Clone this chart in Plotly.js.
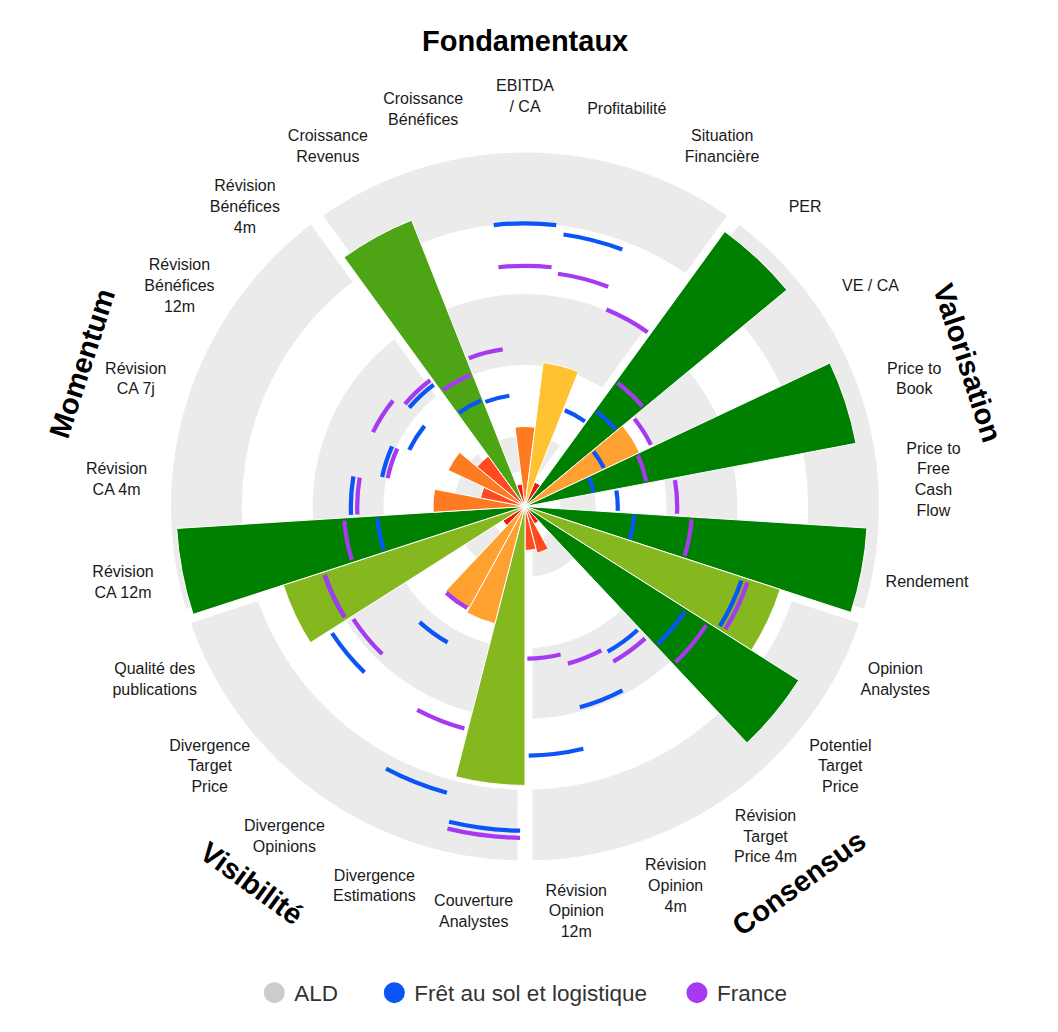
<!DOCTYPE html>
<html>
<head>
<meta charset="utf-8">
<script src="https://cdn.plot.ly/plotly-3.0.1.min.js"></script>
<style>html,body{margin:0;padding:0;background:#fff;}</style>
</head>
<body>
<div id="chart" style="width:1058px;height:1032px;"></div>
<script>
// ---- data ----
const categories = [
  "EBITDA / CA", "Profitabilité", "Situation Financière",
  "PER", "VE / CA", "Price to Book", "Price to Free Cash Flow", "Rendement",
  "Opinion Analystes", "Potentiel Target Price", "Révision Target Price 4m", "Révision Opinion 4m", "Révision Opinion 12m",
  "Couverture Analystes", "Divergence Estimations", "Divergence Opinions", "Divergence Target Price", "Qualité des publications",
  "Révision CA 12m", "Révision CA 4m", "Révision CA 7j", "Révision Bénéfices 12m", "Révision Bénéfices 4m",
  "Croissance Revenus", "Croissance Bénéfices"
];
const tickLabels = [
  "EBITDA<br>/ CA", "Profitabilité", "Situation<br>Financière",
  "PER", "VE / CA", "Price to<br>Book", "Price to<br>Free<br>Cash<br>Flow", "Rendement",
  "Opinion<br>Analystes", "Potentiel<br>Target<br>Price", "Révision<br>Target<br>Price 4m", "Révision<br>Opinion<br>4m", "Révision<br>Opinion<br>12m",
  "Couverture<br>Analystes", "Divergence<br>Estimations", "Divergence<br>Opinions", "Divergence<br>Target<br>Price", "Qualité des<br>publications",
  "Révision<br>CA 12m", "Révision<br>CA 4m", "Révision<br>CA 7j", "Révision<br>Bénéfices<br>12m", "Révision<br>Bénéfices<br>4m",
  "Croissance<br>Revenus", "Croissance<br>Bénéfices"
];
const groupNames = ["Fondamentaux", "Valorisation", "Consensus", "Visibilité", "Momentum"];
const groupMiddles = ["EBITDA / CA", "Price to Book", "Révision Target Price 4m", "Divergence Opinions", "Révision CA 7j"];

const aldValues = [1.13, 2.05, 0.37, 4.80, 1.79, 4.76, 0, 4.84, 3.79, 4.58, 0.28, 0.68, 0.62, 3.94, 1.71, 1.64, 0.37, 3.59, 4.93, 1.30, 0.64, 1.20, 0.88, 4.35, 0.32];
const fretValues = [4.00, 3.88, 1.47, 1.68, 1.24, 0.99, 1.31, 1.55, 3.23, 2.70, 2.36, 2.94, 3.52, 4.58, 4.19, 2.21, 3.26, 2.99, 2.09, 2.46, 2.06, 1.82, 2.15, 1.62, 1.58];
const franceValues = [3.40, 3.32, 3.01, 2.18, 1.98, 1.75, 2.15, 2.36, 3.32, 3.06, 2.52, 2.30, 2.15, 4.68, 3.25, 1.65, 2.90, 2.99, 2.56, 2.37, 1.98, 2.39, 2.23, 2.01, 2.24];

const seriesNames = ["ALD", "Frêt au sol et logistique", "France"];

// ---- styles ----
const rMax = 5;          // outer edge of the score scale
const rView = 6;         // radial range shown (room for the category labels)
const bandBases = [0.5, 2, 4];
const bandSizes = [0.5, 1, 1];
const palette = ["#fb1212", "#ff4b1f", "#ff7b22", "#ffa131", "#ffc233", "#e0c22b", "#b5bd25", "#85b71e", "#4da515", "#008000"];
const legendColors = ["#cccccc", "#0b55f7", "#a63af2"];
const legendPads = ["\u00a0\u00a0\u00a0\u00a0\u00a0", "\u00a0\u00a0\u00a0\u00a0", ""];
const arcThick = 0.06;
const labelR = 5.78;
const titleR = 6.58;

function colorFor(v) {
  const i = Math.min(palette.length - 1, Math.max(0, Math.floor(v / 0.5)));
  return palette[i];
}

const traces = [];

// grey background bands per group
const bandTheta = [], bandBase = [], bandR = [];
groupMiddles.forEach(g => {
  bandBases.forEach((b, k) => { bandTheta.push(g); bandBase.push(b); bandR.push(bandSizes[k]); });
});
traces.push({
  type: "barpolar", theta: bandTheta, base: bandBase, r: bandR, width: 5,
  marker: {color: "#ebebeb", line: {width: 0}}, showlegend: false, hoverinfo: "skip"
});

// white gaps between groups
traces.push({
  type: "barpolar", theta: groupMiddles, r: groupMiddles.map(() => rMax + 0.1), base: 0,
  width: 0.001, offset: 2.5,
  marker: {color: "#ffffff", line: {color: "#ffffff", width: 15}}, showlegend: false, hoverinfo: "skip"
});

// ALD bars
traces.push({
  type: "barpolar", name: seriesNames[0], theta: categories, r: aldValues, width: 1,
  marker: {color: aldValues.map(colorFor), line: {color: "#ffffff", width: 1}},
  showlegend: false
});

// benchmark arcs
[fretValues, franceValues].forEach((vals, k) => {
  traces.push({
    type: "barpolar", name: seriesNames[k + 1], theta: categories,
    base: vals.map(v => v - arcThick / 2), r: vals.map(() => arcThick), width: 0.88,
    marker: {color: legendColors[k + 1], line: {width: 0}}, showlegend: false
  });
});

// category labels
traces.push({
  type: "scatterpolar", mode: "text", theta: categories, r: categories.map(() => labelR),
  text: tickLabels, textposition: "middle center", cliponaxis: false,
  textfont: {family: "Liberation Sans, Arial, sans-serif", size: 16, color: "#1a1a1a"},
  showlegend: false, hoverinfo: "skip"
});

// legend entries
seriesNames.forEach((n, k) => {
  traces.push({
    type: "scatterpolar", mode: "markers", name: n + legendPads[k],
    theta: [categories[0]], r: [null],
    marker: {symbol: "circle", size: 16, color: legendColors[k], line: {color: legendColors[k], width: 5}},
    showlegend: true
  });
});

// group titles
const W = 1058, H = 1032, cx = 525, cy = 506.5, Rpx = 354;
const Rdom = Rpx * rView / rMax;
const annotations = groupNames.map((g, i) => {
  const idx = categories.indexOf(groupMiddles[i]);
  const ang = idx * 360 / categories.length;
  const rad = ang * Math.PI / 180;
  const rp = titleR / rMax * Rpx;
  const px = cx + rp * Math.sin(rad), py = cy - rp * Math.cos(rad);
  let ta = ang;
  if (ang > 90 && ang < 270) ta = ang - 180; else if (ang >= 270) ta = ang - 360;
  return {
    text: "<b>" + g + "</b>", x: px / W, y: 1 - py / H, xref: "paper", yref: "paper",
    xanchor: "center", yanchor: "middle", showarrow: false, textangle: ta,
    font: {family: "Liberation Sans, Arial, sans-serif", size: 29, color: "#000"}
  };
});

const layout = {
  width: W, height: H,
  margin: {l: 0, r: 0, t: 0, b: 0},
  paper_bgcolor: "#ffffff",
  font: {family: "Liberation Sans, Arial, sans-serif"},
  polar: {
    domain: {x: [(cx - Rdom) / W, (cx + Rdom) / W], y: [(H - cy - Rdom) / H, (H - cy + Rdom) / H]},
    bgcolor: "rgba(0,0,0,0)",
    bargap: 0,
    barmode: "overlay",
    radialaxis: {range: [0, rView], visible: false, showgrid: false, showline: false, showticklabels: false, ticks: ""},
    angularaxis: {
      type: "category", categoryorder: "array", categoryarray: categories,
      rotation: 90, direction: "clockwise",
      showgrid: false, showline: false, ticks: "", showticklabels: false
    }
  },
  showlegend: true,
  legend: {
    orientation: "h", x: 0.4946, xanchor: "center", y: 1 - 993 / H, yanchor: "middle",
    font: {family: "Liberation Sans, Arial, sans-serif", size: 22.5, color: "#333333"},
    bgcolor: "rgba(0,0,0,0)"
  },
  annotations: annotations
};

Plotly.newPlot("chart", traces, layout, {displayModeBar: false, staticPlot: true});
</script>
</body>
</html>
